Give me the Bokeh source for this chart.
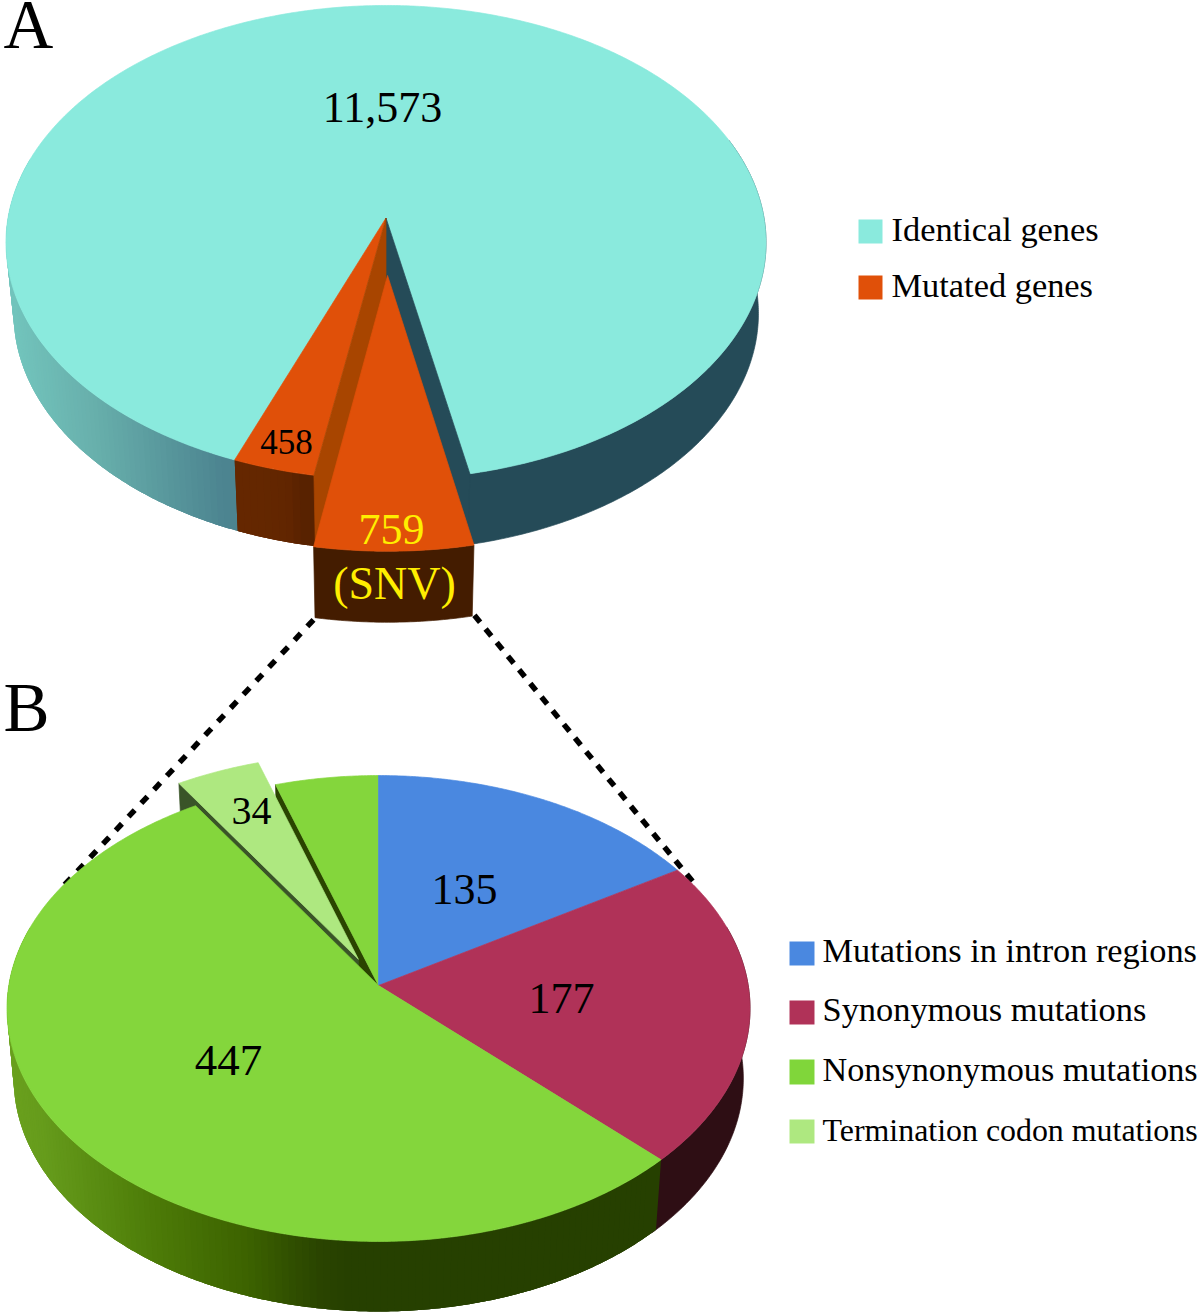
import numpy as np
from bokeh.plotting import figure
from bokeh.core.properties import value
from bokeh.embed import file_html
from bokeh.resources import INLINE

# ---------- data ----------
genes_labels = ["Identical genes", "Mutated genes"]
identical = 11573
mutated_other = 458
mutated_snv = 759
snv_labels = ["Mutations in intron regions", "Synonymous mutations",
              "Nonsynonymous mutations", "Termination codon mutations"]
intron = 135
synonymous = 177
nonsynonymous = 447
termination = 34

# ---------- styles ----------
TEAL, ORANGE = "#8aeadd", "#e05009"
BLUE, CRIMSON, GREEN, LIGHT = "#4a88e0", "#b03258", "#84d63c", "#aee880"
YELLOW = "#ffee00"
SERIF = value("Liberation Serif")

p = figure(width=1200, height=1313, x_range=(0, 1200), y_range=(1313, 0),
           x_axis_type=None, y_axis_type=None, toolbar_location=None,
           output_backend="svg", min_border=0, outline_line_color=None,
           margin=(0, 0, 0, 0))
p.grid.visible = False


def sweep(a, b, step=0.5):
    return np.linspace(a, b, max(2, int(round((b - a) / step)) + 1))


class Disc:
    """A disc seen in perspective; theta runs clockwise from the far side."""
    def __init__(s, xc, yc, D, A, k, depth, shrink):
        s.xc, s.yc, s.D, s.A, s.k, s.depth, s.shrink = xc, yc, D, A, k, depth, shrink

    def pt(s, th, r=1.0, du=0.0, dv=0.0):
        t = np.radians(th)
        u = -np.cos(t) * r + du
        v = np.sin(t) * r + dv
        den = 1 + s.k * u
        return s.xc + s.D * v / den, s.yc + s.A * u / den

    def low(s, xy):
        return s.xc + (xy[0] - s.xc) * s.shrink, xy[1] + s.depth

    def top(s, a, b, du=0.0, dv=0.0):
        xs, ys = s.pt(sweep(a, b), 1.0, du, dv)
        cx, cy = s.pt(0.0, 0.0, du, dv)
        return [cx, *xs], [cy, *ys]

    def radial_wall(s, th, du=0.0, dv=0.0):
        c, e = s.pt(0.0, 0.0, du, dv), s.pt(th, 1.0, du, dv)
        lc, le = s.low(c), s.low(e)
        return [c[0], e[0], le[0], lc[0]], [c[1], e[1], le[1], lc[1]]

    def band(s, a, b, du=0.0, dv=0.0):
        xs, ys = s.pt(sweep(a, b), 1.0, du, dv)
        lx, ly = s.low((xs, ys))
        return [*xs, *lx[::-1]], [*ys, *ly[::-1]]

    def shaded_band(s, a, b, colour, du=0.0, dv=0.0, step=1.0):
        # painted from the far end with each strip running on under the next one
        edges = sweep(a, b, step)
        for t0, t1 in zip(edges[:-1][::-1], edges[1:][::-1]):
            mid = s.pt((t0 + t1) / 2, 1.0, du, dv)
            bx, by = s.band(t0, min(t1 + 2 * step, b), du, dv)
            c = colour(mid[0])
            p.patch(bx, by, fill_color=c, line_color=None)


def ramp(stops):
    xs = [a for a, _ in stops]
    rgb = np.array([[int(c[i:i + 2], 16) for i in (1, 3, 5)] for _, c in stops], float)
    def f(x):
        return "#%02x%02x%02x" % tuple(int(round(np.interp(x, xs, rgb[:, i]))) for i in range(3))
    return f


def face(xy, colour):
    p.patch(xy[0], xy[1], fill_color=colour, line_color=colour, line_width=0.7)


def label(x, base, text, size, colour="black", align="center"):
    # text_baseline "middle" sits about 0.365 em above the baseline of this font
    p.text([x], [base - 0.365 * size], text=[text], text_font=SERIF, text_font_size=f"{size}px",
           text_align=align, text_baseline="middle", text_color=colour)


def dashes(x0, y0, x1, y1, on, period):
    length = np.hypot(x1 - x0, y1 - y0)
    dx, dy = (x1 - x0) / length, (y1 - y0) / length
    starts = np.arange(0, length - on / 2, period)
    p.multi_line([[x0 + dx * d, x0 + dx * (d + on)] for d in starts],
                 [[y0 + dy * d, y0 + dy * (d + on)] for d in starts],
                 line_color="black", line_width=5.5)


# ---------- connector lines ----------
dashes(313, 619.4, 60, 888.6, 9, 18.65)
dashes(473.9, 614.8, 690.5, 879, 9, 17.63)

# ---------- pie A ----------
a = Disc(385.5, 217.5, 378, 234.5, -0.1034, 71, 0.98)
total_a = identical + mutated_other + mutated_snv
sweep_snv = 360 * mutated_snv / total_a
sweep_other = 360 * mutated_other / total_a * 0.88  # drawn a little narrow in the artwork
a0 = 168.5
a1 = a0 + sweep_snv
a2 = a1 + sweep_other
EXPL_A = dict(du=0.239, dv=0.004)

a.shaded_band(a2 - 1, 285, ramp([(15, "#72c4bc"), (100, "#68b0ac"), (235, "#4c8490")]))
face(a.band(70, a0 + 1), "#254b58")
a.shaded_band(a1 - 1, a2, ramp([(235, "#662800"), (300, "#622600"), (315, "#582200")]))
face(a.top(a2, a0 + 360), TEAL)
face(a.top(a1, a2), ORANGE)
face(a.radial_wall(a0), "#254b58")
face(a.radial_wall(a1), "#a84500")
face(a.band(a0, a1, **EXPL_A), "#441c00")
face(a.top(a0, a1, **EXPL_A), ORANGE)

# ---------- pie B ----------
b = Disc(378, 985, 369.7, 230.7, -0.0987, 70, 0.982)
deg_per_mutation = 0.4316  # sweep per mutation read from the artwork
b1 = deg_per_mutation * intron
b2 = b1 + deg_per_mutation * synonymous
b3 = b2 + deg_per_mutation * nonsynonymous
b4 = b3 + deg_per_mutation * termination
EXPL_B = dict(du=-0.115, dv=-0.055)

face(b.band(75, b2 + 1), "#2e0e14")
b.shaded_band(b2, 285, ramp([(10, "#6aa01e"), (50, "#659b1b"), (160, "#4d7c08"), (260, "#3c6200"),
                             (330, "#2a4500"), (360, "#264000"), (660, "#264000")]))
face(b.radial_wall(b4), "#2a4400")
face(b.radial_wall(b3, **EXPL_B), "#3a5428")
face(b.top(b3, b4, **EXPL_B), LIGHT)
face(b.top(b4, 360), GREEN)
face(b.top(0, b1), BLUE)
face(b.top(b1, b2), CRIMSON)
face(b.top(b2, b3), GREEN)

# ---------- value labels ----------
label(382, 123, "11,573", 44)
label(286, 454, f"{mutated_other}", 35)
label(391, 545, f"{mutated_snv}", 44, YELLOW)
label(394, 600, "(SNV)", 46, YELLOW)
label(464, 905, f"{intron}", 44)
label(561, 1014, f"{synonymous}", 44)
label(228, 1076, f"{nonsynonymous}", 45)
label(251, 825, f"{termination}", 40)

# ---------- panel letters ----------
label(3, 50, "A", 69, align="left")
label(3, 733, "B", 69, align="left")

# ---------- legends ----------
p.quad(left=[858, 858], right=[882, 882], top=[219, 275], bottom=[243, 299],
       fill_color=[TEAL, "#e05009"], line_color=None)
for name, base in zip(genes_labels, [241, 297]):
    label(891, base, name, 34.4, align="left")
p.quad(left=[789] * 4, right=[814] * 4, top=[941, 1000, 1059, 1119],
       bottom=[965, 1024, 1084, 1143], fill_color=[BLUE, CRIMSON, "#80d63a", LIGHT], line_color=None)
for name, base, size in zip(snv_labels, [962.5, 1021.5, 1081.5, 1141.5], [34.3, 34.4, 34.2, 31.9]):
    label(822, base, name, size, align="left")

open("out.html", "w").write(file_html(p, INLINE))
